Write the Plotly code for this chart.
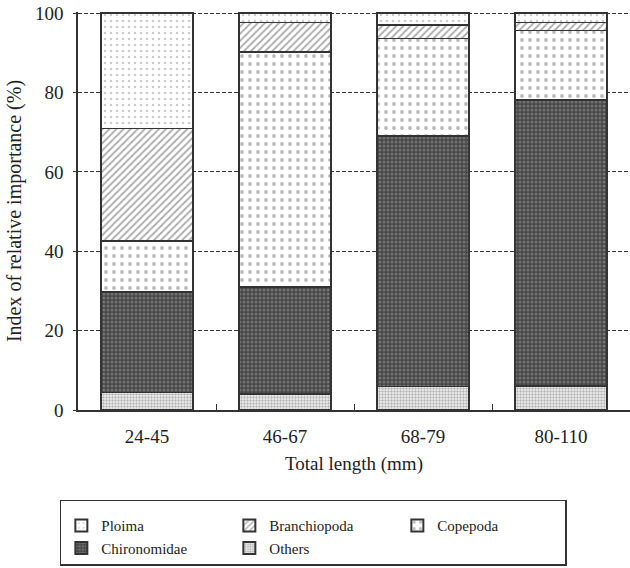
import plotly.graph_objects as go

categories = ["24-45", "46-67", "68-79", "80-110"]
others = [4.4, 4.0, 5.9, 6.1]
chironomidae = [25.4, 27.0, 63.2, 72.0]
copepoda = [12.8, 59.2, 24.5, 17.6]
branchiopoda = [28.3, 7.5, 3.4, 1.9]
ploima = [29.1, 2.3, 3.0, 2.4]
y_ticks = [0, 20, 40, 60, 80, 100]

FONT = "Liberation Serif, Times New Roman, serif"
series = [
    ("Others", others, dict(shape=".", fgcolor="#777", bgcolor="#f4f4f4", size=3, solidity=0.5), 5),
    ("Chironomidae", chironomidae, dict(shape=".", fgcolor="#a0a0a0", bgcolor="#464646", size=4, solidity=0.45), 4),
    ("Copepoda", copepoda, dict(shape=".", fgcolor="#777", bgcolor="white", size=8, solidity=0.18), 3),
    ("Branchiopoda", branchiopoda, dict(shape="/", fgcolor="#555", bgcolor="white", size=5, solidity=0.35), 2),
    ("Ploima", ploima, dict(shape=".", fgcolor="#999", bgcolor="white", size=6, solidity=0.15), 1),
]

fig = go.Figure()
for name, vals, pat, rank in series:
    fig.add_trace(go.Bar(
        x=categories, y=vals, name=name, legendrank=rank,
        marker=dict(color="white", pattern=pat, line=dict(color="#333", width=1.5)),
        width=0.67,
    ))

fig.update_layout(
    barmode="stack",
    width=630, height=568,
    margin=dict(l=78, r=0, t=12, b=158, autoexpand=False),
    plot_bgcolor="white", paper_bgcolor="white",
    font=dict(family=FONT, size=19, color="#222"),
    showlegend=True,
    legend=dict(
        orientation="h", traceorder="normal",
        xref="container", yref="container",
        x=0.095, xanchor="left", y=0.12, yanchor="top",
        bordercolor="#333", borderwidth=1.5,
        entrywidth=123, entrywidthmode="pixels",
        font=dict(family=FONT, size=15, color="#222"),
        itemsizing="constant",
        title=dict(text=" ", side="top", font=dict(size=6)),
    ),
    xaxis=dict(
        type="category", range=[-0.5, 3.5], automargin=False,
        showline=True, linecolor="#333", linewidth=1.5,
        ticks="inside", tickson="boundaries", ticklen=6, tickcolor="#333",
        ticklabelstandoff=8,
        title=dict(text="Total length (mm)", font=dict(size=19), standoff=11),
        showgrid=False,
    ),
    yaxis=dict(
        range=[0, 100.3], tickvals=y_ticks, automargin=False,
        showline=True, linecolor="#333", linewidth=1.5,
        ticks="outside", ticklen=3, tickcolor="#333",
        ticklabelstandoff=6,
        showgrid=True, gridcolor="#333", griddash="4px,2px", gridwidth=1.2,
        zeroline=False,
        title=dict(text="Index of relative importance (%)", font=dict(size=20), standoff=8),
    ),
)

fig.write_html("out.html", config={"displayModeBar": False},
               post_script="document.body.style.margin='0';")
